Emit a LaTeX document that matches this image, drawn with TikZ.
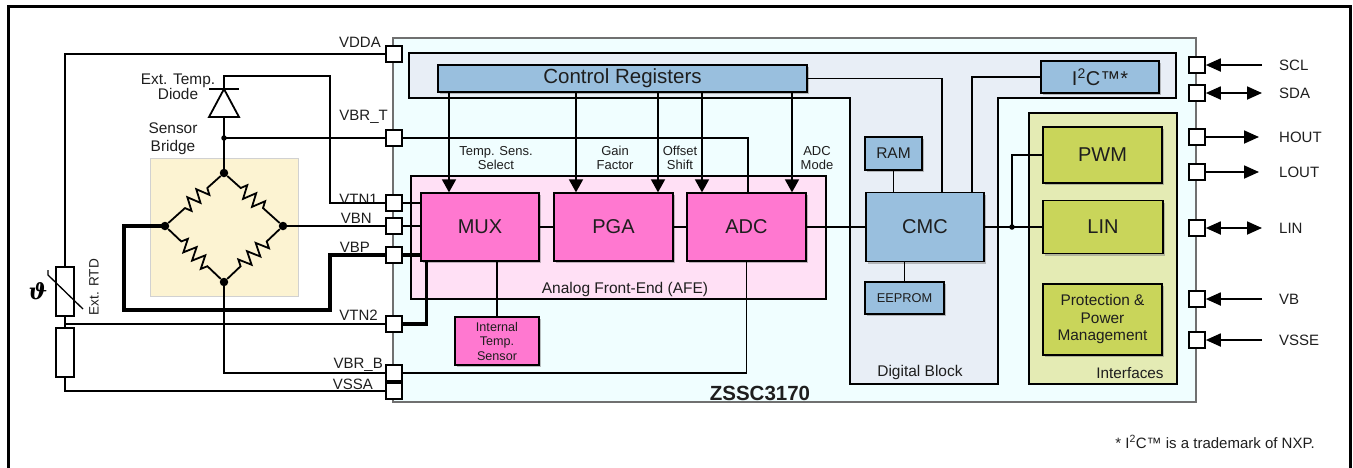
\documentclass[tikz,border=0pt]{standalone}
\usepackage{fontspec}
\setmainfont{Liberation Sans}
\newfontfamily\thfont{DejaVu Serif}
\usetikzlibrary{arrows.meta,shadows,decorations.pathmorphing,calc}

\definecolor{chipfill}{RGB}{240,254,255}
\definecolor{digfill}{RGB}{232,238,246}
\definecolor{bluebox}{RGB}{153,191,222}
\definecolor{afefill}{RGB}{255,224,245}
\definecolor{pinkbox}{RGB}{255,120,208}
\definecolor{iffill}{RGB}{228,235,180}
\definecolor{greenbox}{RGB}{201,213,90}
\definecolor{bridgefill}{RGB}{252,243,210}
\definecolor{chipborder}{RGB}{112,112,112}
\definecolor{txt}{RGB}{30,30,30}

\newcommand\fsz[2]{\fontsize{#1}{#2}\selectfont}

\tikzset{
  wire/.style={line width=1.8pt},
  thickwire/.style={line width=3.2pt},
  region/.style={draw, line width=1.3pt, inner sep=0},
  bl/.style={draw, line width=1.3pt, inner sep=0, align=center, text=txt,
    drop shadow={shadow xshift=2pt, shadow yshift=-2pt, fill=black!50, opacity=0.5}},
  bluebl/.style={bl, fill=bluebox},
  pinkbl/.style={bl, fill=pinkbox},
  greenbl/.style={bl, fill=greenbox},
  padbox/.style={draw, fill=white, line width=1.6pt, minimum size=16pt, inner sep=0},
  plabel/.style={inner sep=0, font=\fsz{15}{18}, text=txt},
  small/.style={inner sep=0, align=center, text=txt},
  bigdot/.style={circle, fill, minimum size=8.5pt, inner sep=0},
  smalldot/.style={circle, fill, minimum size=5.5pt, inner sep=0},
  arr/.style={-{Triangle[length=13pt,width=14pt]}},
  parr/.style={-{Triangle[length=15pt,width=13pt]}},
  parrb/.style={{Triangle[length=15pt,width=13pt]}-{Triangle[length=15pt,width=13pt]}},
  res/.style={decorate, decoration={zigzag, amplitude=6.5pt, segment length=12pt, pre length=18pt, post length=18pt}}
}

\begin{document}
\begin{tikzpicture}[x=1pt,y=-1pt]
\useasboundingbox (0,0) rectangle (1353,467);

% outer frame
\draw[line width=3pt] (8,480) -- (8,6) -- (1350,6) -- (1350,480);

% chip
\node[draw=chipborder, fill=chipfill, line width=1.6pt, minimum width=803pt, minimum height=364pt, inner sep=0] (chip) at (794.5,220) {};

% digital block region
\draw[fill=digfill, line width=1.3pt] (409,53) -- (1176,53) -- (1176,98) -- (998,98) -- (998,384) -- (850,384) -- (850,98) -- (409,98) -- cycle;

% AFE and interfaces regions
\node[region, fill=afefill, minimum width=415pt, minimum height=123pt] (afe) at (618.5,237.5) {};
\node[region, fill=iffill, minimum width=148pt, minimum height=271pt] (ifc) at (1103,248.5) {};

% bridge area
\node[draw=black!18, fill=bridgefill, line width=1pt, minimum width=148pt, minimum height=138pt, inner sep=0] (bbox) at (224,227) {};

% region labels
\node[small, font=\fsz{15.5}{18}] (lafe) at (625,289) {Analog Front-End (AFE)};
\node[small, font=\fsz{15.5}{18}] (ldig) at (920,372) {Digital Block};
\node[small, font=\fsz{15.3}{18}] (lifc) at (1130,373) {Interfaces};
\node[small, font=\fsz{20.5}{22}\bfseries] (lchip) at (760,393) {ZSSC3170};

% blocks
\node[bluebl, minimum width=369pt, minimum height=27pt, font=\fsz{20.5}{24}] (ctrl) at (622.5,78.5) {Control Registers};
\node[bluebl, minimum width=118pt, minimum height=32pt, font=\fsz{20}{24}] (i2c) at (1100,77) {I\textsuperscript{2}C™*};
\node[bluebl, minimum width=57pt, minimum height=33pt, font=\fsz{15.5}{18}] (ram) at (893.5,153.5) {RAM};
\node[bluebl, minimum width=118pt, minimum height=69pt, font=\fsz{20}{24}] (cmc) at (925,227) {CMC};
\node[bluebl, minimum width=79pt, minimum height=32pt, font=\fsz{12.8}{15}] (eep) at (904.5,298) {EEPROM};
\node[pinkbl, minimum width=118pt, minimum height=68pt, font=\fsz{20}{24}] (mux) at (480,227) {MUX};
\node[pinkbl, minimum width=119pt, minimum height=68pt, font=\fsz{20}{24}] (pga) at (613.5,227) {PGA};
\node[pinkbl, minimum width=119pt, minimum height=68pt, font=\fsz{20}{24}] (adc) at (746.5,227) {ADC};
\node[pinkbl, minimum width=84pt, minimum height=48pt, font=\fsz{12.6}{14.5}] (its) at (497,341) {Internal\\Temp.\\Sensor};
\node[greenbl, minimum width=119pt, minimum height=56pt, font=\fsz{20}{24}] (pwm) at (1102.5,155) {PWM};
\node[greenbl, minimum width=120pt, minimum height=53pt, font=\fsz{20}{24}] (lin) at (1103,227) {LIN};
\node[greenbl, minimum width=119pt, minimum height=71pt, font=\fsz{15.4}{17.5}] (prot) at (1102.5,319.5) {Protection \&\\Power\\Management};

% control register arrows
\coordinate (a1) at (449,0);
\coordinate (a2) at (576,0);
\coordinate (a3) at (658,0);
\coordinate (a4) at (702,0);
\coordinate (a5) at (792,0);
\draw[wire, arr] (a1 |- ctrl.south) -- (a1 |- mux.north);
\draw[wire, arr] (a2 |- ctrl.south) -- (a2 |- pga.north);
\draw[wire, arr] (a3 |- ctrl.south) -- (a3 |- pga.north);
\draw[wire, arr] (a4 |- ctrl.south) -- (a4 |- adc.north);
\draw[wire, arr] (a5 |- ctrl.south) -- (a5 |- adc.north);
\node[small, font=\fsz{13}{14}] (lts) at (496,158) {Temp. Sens.\\Select};
\node[small, font=\fsz{13}{14}] (lgf) at (615,158) {Gain\\Factor};
\node[small, font=\fsz{13}{14}] (los) at (680,158) {Offset\\Shift};
\node[small, font=\fsz{13}{14}] (lam) at (817,158) {ADC\\Mode};

% left pads
\node[padbox] (pVDDA) at (394,54) {};
\node[padbox] (pVBRT) at (394,138) {};
\node[padbox] (pVTNa) at (394,203) {};
\node[padbox] (pVBN) at (394,226) {};
\node[padbox] (pVBP) at (394,255) {};
\node[padbox] (pVTNb) at (394,324) {};
\node[padbox] (pVBRB) at (394,373) {};
\node[padbox] (pVSSA) at (394,391) {};
\node[plabel, anchor=base east] (lVDDA) at (381,47) {VDDA};
\node[plabel, anchor=base east] (lVBRT) at (388,120) {VBR\_T};
\node[plabel, anchor=base east] (lVTNa) at (378,204) {VTN1};
\node[plabel, anchor=base east] (lVBN) at (372,223) {VBN};
\node[plabel, anchor=base east] (lVBP) at (370,252) {VBP};
\node[plabel, anchor=base east] (lVTNb) at (378,320) {VTN2};
\node[plabel, anchor=base east] (lVBRB) at (383,368) {VBR\_B};
\node[plabel, anchor=base east] (lVSSA) at (373,389) {VSSA};

% right pads
\node[padbox] (pSCL) at (1197,65) {};
\node[padbox] (pSDA) at (1197,93) {};
\node[padbox] (pHOUT) at (1197,137) {};
\node[padbox] (pLOUT) at (1197,172) {};
\node[padbox] (pLIN) at (1197,228) {};
\node[padbox] (pVB) at (1197,299) {};
\node[padbox] (pVSSE) at (1197,340) {};
\coordinate (eSCL) at (1262,65);
\coordinate (eSDA) at (1262,93);
\coordinate (eHOUT) at (1259,137);
\coordinate (eLOUT) at (1259,172);
\coordinate (eLIN) at (1262,228);
\coordinate (eVB) at (1262,299);
\coordinate (eVSSE) at (1262,340);
\draw[wire, parr] (eSCL) -- (pSCL.east);
\draw[wire, parrb] (pSDA.east) -- (eSDA);
\draw[wire, parr] (pHOUT.east) -- (eHOUT);
\draw[wire, parr] (pLOUT.east) -- (eLOUT);
\draw[wire, parrb] (pLIN.east) -- (eLIN);
\draw[wire, parr] (eVB) -- (pVB.east);
\draw[wire, parr] (eVSSE) -- (pVSSE.east);
\node[plabel, anchor=west] (lSCL) at (1279,65) {SCL};
\node[plabel, anchor=west] (lSDA) at (1279,93) {SDA};
\node[plabel, anchor=west] (lHOUT) at (1279,137) {HOUT};
\node[plabel, anchor=west] (lLOUT) at (1279,172) {LOUT};
\node[plabel, anchor=west] (lLIN) at (1279,228) {LIN};
\node[plabel, anchor=west] (lVB) at (1279,299) {VB};
\node[plabel, anchor=west] (lVSSE) at (1279,340) {VSSE};

% internal wiring
\draw[wire] (pVBRT.east) -| ([xshift=1.5pt]adc.north);
\draw[wire] (pVTNa.east) -- (pVTNa.east -| mux.west);
\draw[wire] (pVBN.east) -- (pVBN.east -| mux.west);
\draw[thickwire] (pVBP.east) -- (pVBP.east -| mux.west);
\draw[thickwire] (pVTNb.east) -| ([xshift=6pt]mux.south west);
\draw[wire] (pVBRB.east) -| (adc.south);
\draw[wire] (mux.south -| its.north) -- (its.north);
\draw[wire] (mux) -- (pga);
\draw[wire] (pga) -- (adc);
\draw[wire] (adc) -- (cmc);
\draw[wire] (ctrl.east) -| ([xshift=17pt]cmc.north);
\draw[wire] (i2c.west) -| ([xshift=47pt]cmc.north);
\draw[wire] (ram) -- (ram |- cmc.north);
\draw[wire] (eep.north |- cmc.south) -- (eep.north);
\node[smalldot] (jIF) at (1012,227) {};
\draw[wire] (cmc.east) -- (lin.west);
\draw[wire] (jIF.center) |- (pwm.west);

% external: RTD
\node[draw, fill=white, line width=1.6pt, minimum width=18pt, minimum height=49pt, inner sep=0] (rtd) at (65,291.5) {};
\node[draw, fill=white, line width=1.6pt, minimum width=18pt, minimum height=49pt, inner sep=0] (rlow) at (65,352.5) {};
\draw[line width=1.3pt] (48,270) -- (48,275) -- (83,309);
\node[inner sep=0, font=\fsz{22}{22}\thfont\bfseries\itshape] (theta) at (38,291) {ϑ};
\node[small, rotate=90, font=\fsz{13.6}{16}] (lrtd) at (94,287) {Ext. RTD};
\coordinate (jRTD) at (65,324);
\draw[wire] (pVDDA.west) -| (rtd.north);
\draw[wire] (rtd.south) -- (rlow.north);
\draw[wire] (jRTD) -- (pVTNb.west);
\draw[wire] (rlow.south) |- (pVSSA.west);

% diode
\coordinate (dK) at (224,89);
\coordinate (dA) at (224,117);
\coordinate (kinkT) at (330,76);
\draw[wire, fill=white] (209,117) -- (239,117) -- (dK) -- cycle;
\draw[line width=2.8pt] (209,89) -- (239,89);
\draw[wire] (dK) |- (kinkT) |- (pVTNa.west);
\node[small, font=\fsz{15.4}{14}] (ldiode) at (178,87) {Ext. Temp.\\Diode};
\node[small, font=\fsz{15.4}{18}] (lbridge) at (173,139) {Sensor\\Bridge};

% bridge
\node[smalldot] (jBRT) at (224,138) {};
\node[bigdot] (bT) at (224,173) {};
\node[bigdot] (bL) at (165,226) {};
\node[bigdot] (bR) at (283,226) {};
\node[bigdot] (bB) at (224,282) {};
\draw[wire] (dA) -- (jBRT.center) -- (bT);
\draw[wire] (jBRT.center) -- (pVBRT.west);
\draw[wire, res] (bT) -- (bR);
\draw[wire, res] (bT) -- (bL);
\draw[wire, res] (bL) -- (bB);
\draw[wire, res] (bR) -- (bB);
\coordinate (tw1) at (124,310);
\coordinate (tw2) at (330,255);
\draw[thickwire] (bL.center) -| (tw1) -| (tw2) -- (pVBP.west);
\draw[wire] (bR.center) -- (pVBN.west);
\draw[wire] (bB.center) |- (pVBRB.west);

% footnote
\node[small, anchor=east, font=\fsz{15}{18}] (fnote) at (1315,442) {* I\textsuperscript{2}C™ is a trademark of NXP.};
\end{tikzpicture}
\end{document}
